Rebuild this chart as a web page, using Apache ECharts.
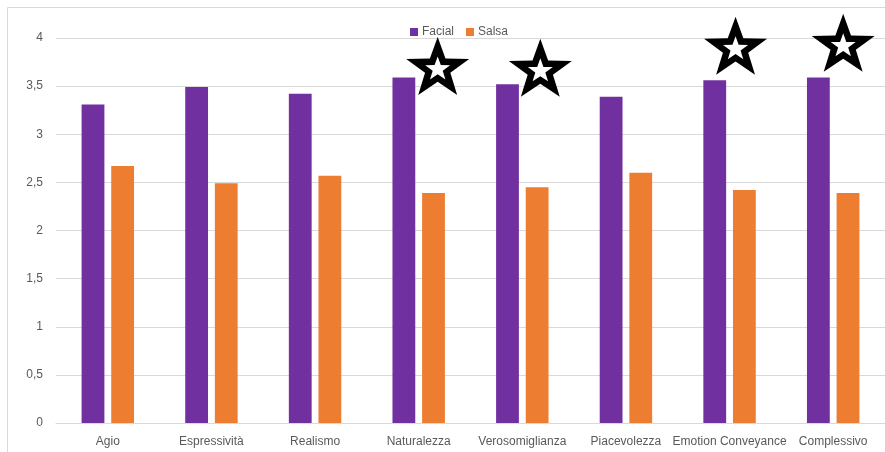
<!DOCTYPE html>
<html>
<head>
<meta charset="utf-8">
<script src="https://cdn.jsdelivr.net/npm/echarts@6/dist/echarts.min.js"></script>
<style>
  html, body { margin: 0; padding: 0; background: #fff; }
  #chart { width: 885px; height: 452px; }
</style>
</head>
<body>
<div id="chart"></div>
<script>
// Valutazione media per criterio
const categories = ['Agio', 'Espressività', 'Realismo', 'Naturalezza', 'Verosomiglianza', 'Piacevolezza', 'Emotion Conveyance', 'Complessivo'];
const facial = [3.31, 3.49, 3.42, 3.59, 3.52, 3.39, 3.56, 3.59];
const salsa = [2.67, 2.49, 2.57, 2.39, 2.45, 2.60, 2.42, 2.39];
// Criteri con differenza significativa (stella) e quota della stella
const starCategories = ['Naturalezza', 'Verosomiglianza', 'Emotion Conveyance', 'Complessivo'];
const starLevels = [3.71, 3.69, 3.92, 3.95];
const starShift = [19, 18, 6, 10];
const yTicks = [0, 0.5, 1, 1.5, 2, 2.5, 3, 3.5, 4];

const STAR = 'path://M50,0 L61.8,33.8 L97.6,34.5 L69.1,56.1 L79.4,90.5 L50,70 L20.6,90.5 L30.9,56.1 L2.4,34.5 L38.2,33.8 Z';
const FONT = "'Liberation Sans', Arial, sans-serif";

const starData = starCategories.map((c, i) => ({ value: [c, starLevels[i]], symbolOffset: [starShift[i], 0] }));
const starCore = starCategories.map((c, i) => ({ value: [c, starLevels[i]], symbolOffset: [starShift[i], 2] }));

const chart = echarts.init(document.getElementById('chart'));
chart.setOption({
  animation: false,
  textStyle: { fontFamily: FONT },
  graphic: [{
    type: 'rect',
    shape: { x: 7.5, y: 7.5, width: 900, height: 460 },
    style: { fill: 'none', stroke: '#d9d9d9', lineWidth: 1 },
    silent: true
  }],
  legend: {
    top: 21,
    left: 405,
    itemWidth: 8,
    itemHeight: 8,
    itemGap: 12,
    icon: 'rect',
    data: ['Facial', 'Salsa'],
    textStyle: { color: '#595959', fontSize: 12, fontFamily: FONT, padding: [0, 0, 0, -1] }
  },
  grid: { left: 56, right: 0, top: 38, bottom: 29 },
  xAxis: {
    type: 'category',
    data: categories,
    axisLine: { lineStyle: { color: '#d9d9d9', width: 1 } },
    axisTick: { show: false },
    axisLabel: { color: '#595959', fontSize: 12, margin: 13, interval: 0, fontFamily: FONT }
  },
  yAxis: {
    type: 'value',
    min: 0,
    max: 4,
    interval: 0.5,
    axisLine: { show: false },
    axisTick: { show: false },
    splitLine: { lineStyle: { color: '#d9d9d9', width: 1 } },
    axisLabel: {
      color: '#595959', fontSize: 12, margin: 13, fontFamily: FONT,
      formatter: v => yTicks.includes(v) ? String(v).replace('.', ',') : ''
    }
  },
  series: [
    {
      name: 'Facial', type: 'bar', data: facial,
      barWidth: '22%', barGap: '30%',
      itemStyle: { color: '#7030a0' }
    },
    {
      name: 'Salsa', type: 'bar', data: salsa,
      barWidth: '22%',
      itemStyle: { color: '#ed7d31' }
    },
    {
      type: 'scatter', data: starData, symbol: STAR,
      symbolSize: [63, 58], clip: false, silent: true, z: 5,
      itemStyle: { color: '#000', opacity: 1 }
    },
    {
      type: 'scatter', data: starCore, symbol: STAR,
      symbolSize: [25, 23], clip: false, silent: true, z: 6,
      itemStyle: { color: '#fff', opacity: 1 }
    }
  ]
});
</script>
</body>
</html>
